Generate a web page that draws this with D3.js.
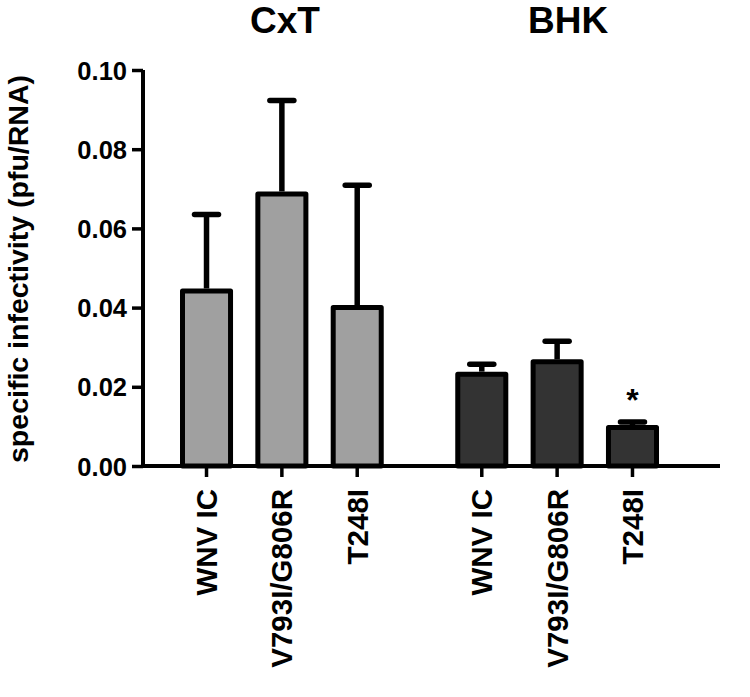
<!DOCTYPE html>
<html>
<head>
<meta charset="utf-8">
<script src="https://cdn.jsdelivr.net/npm/d3@7"></script>
<style>
  body { margin: 0; background: #fff; }
  text { font-family: Arial, "Liberation Sans", sans-serif; font-weight: bold; fill: #000; }
</style>
</head>
<body>
<div id="chart"></div>
<script>
// cell lines (groups) and constructs (bars within each group)
const groups = ["CxT", "BHK"];
const samples = ["WNV IC", "V793I/G806R", "T248I"];
const cxtMeans = [0.0442, 0.0687, 0.0400];
const cxtErr = [0.0193, 0.0236, 0.0309];
const bhkMeans = [0.0232, 0.0263, 0.0097];
const bhkErr = [0.0025, 0.0052, 0.0014];
const yTicks = [0, 0.02, 0.04, 0.06, 0.08, 0.10];
const significant = [{ group: "BHK", sample: "T248I", label: "*" }];

(function() {
  const width = 750, height = 697;
  const fills = { CxT: "#a0a0a0", BHK: "#333333" };

  const rows = [];
  groups.forEach((g, gi) => {
    const m = gi === 0 ? cxtMeans : bhkMeans;
    const e = gi === 0 ? cxtErr : bhkErr;
    samples.forEach((s, i) => rows.push({ group: g, sample: s, mean: m[i], err: e[i] }));
  });

  const svg = d3.select("#chart").append("svg")
    .attr("width", width)
    .attr("height", height);

  const y = d3.scaleLinear().domain([0, 0.10]).range([466, 70]);

  const x0 = d3.scaleBand().domain(groups).range([182.5, 656.5]).paddingInner(0.278);
  const x1 = d3.scaleBand().domain(samples).range([0, x0.bandwidth()])
    .paddingInner(0.3625).paddingOuter(0);
  const cx = d => x0(d.group) + x1(d.sample) + x1.bandwidth() / 2;

  // bars
  svg.append("g").selectAll("rect")
    .data(rows)
    .join("rect")
    .attr("x", d => x0(d.group) + x1(d.sample))
    .attr("y", d => y(d.mean))
    .attr("width", x1.bandwidth())
    .attr("height", d => y(0) - y(d.mean))
    .attr("fill", d => fills[d.group])
    .attr("stroke", "#000")
    .attr("stroke-width", 5)
    .attr("stroke-linejoin", "round");

  // error bars (upper only)
  const eb = svg.append("g").selectAll("g")
    .data(rows)
    .join("g");
  eb.append("line")
    .attr("x1", cx).attr("x2", cx)
    .attr("y1", d => y(d.mean) - 2.5)
    .attr("y2", d => y(d.mean + d.err))
    .attr("stroke", "#000").attr("stroke-width", 5.5);
  eb.append("line")
    .attr("x1", d => cx(d) - 12).attr("x2", d => cx(d) + 12)
    .attr("y1", d => y(d.mean + d.err))
    .attr("y2", d => y(d.mean + d.err))
    .attr("stroke", "#000").attr("stroke-width", 5.5)
    .attr("stroke-linecap", "round");

  // significance marks
  svg.append("g").selectAll("text")
    .data(significant)
    .join("text")
    .attr("x", d => {
      const r = rows.find(r => r.group === d.group && r.sample === d.sample);
      return cx(r);
    })
    .attr("y", d => {
      const r = rows.find(r => r.group === d.group && r.sample === d.sample);
      return y(r.mean + r.err) - 11;
    })
    .attr("text-anchor", "middle")
    .style("font-size", "32px")
    .text(d => d.label);

  // y axis
  const yAxis = svg.append("g")
    .attr("transform", "translate(143,0)")
    .call(d3.axisLeft(y).tickValues(yTicks).tickFormat(d3.format(".2f")).tickSize(11).tickPadding(5));
  yAxis.select(".domain").attr("stroke-width", 4).attr("d", `M0,${y(0)}V${y(0.10)}`);
  yAxis.selectAll(".tick line").attr("stroke-width", 3.5);
  yAxis.selectAll(".tick text").style("font-size", "25.5px").attr("dy", "0.36em");

  // x axis line
  svg.append("line")
    .attr("x1", 141).attr("x2", 720)
    .attr("y1", y(0)).attr("y2", y(0))
    .attr("stroke", "#000").attr("stroke-width", 4);

  // x ticks and rotated labels
  const xt = svg.append("g").selectAll("g")
    .data(rows)
    .join("g")
    .attr("transform", d => `translate(${cx(d)},${y(0)})`);
  xt.append("line")
    .attr("y1", 0).attr("y2", 11)
    .attr("stroke", "#000").attr("stroke-width", 3.5);
  xt.append("text")
    .attr("transform", "translate(0,23) rotate(-90)")
    .attr("text-anchor", "end")
    .attr("dy", "0.36em")
    .style("font-size", "29.5px")
    .text(d => d.sample);

  // group titles
  svg.append("g").selectAll("text")
    .data(groups)
    .join("text")
    .attr("x", (d, i) => x0(d) + x0.bandwidth() / 2 + (i === 0 ? 3 : 11))
    .attr("y", 33)
    .attr("text-anchor", "middle")
    .style("font-size", "37px")
    .text(d => d);

  // y axis title
  svg.append("text")
    .attr("transform", "translate(28,269) rotate(-90)")
    .attr("text-anchor", "middle")
    .style("font-size", "28.5px")
    .text("specific infectivity (pfu/RNA)");
})();
</script>
</body>
</html>
